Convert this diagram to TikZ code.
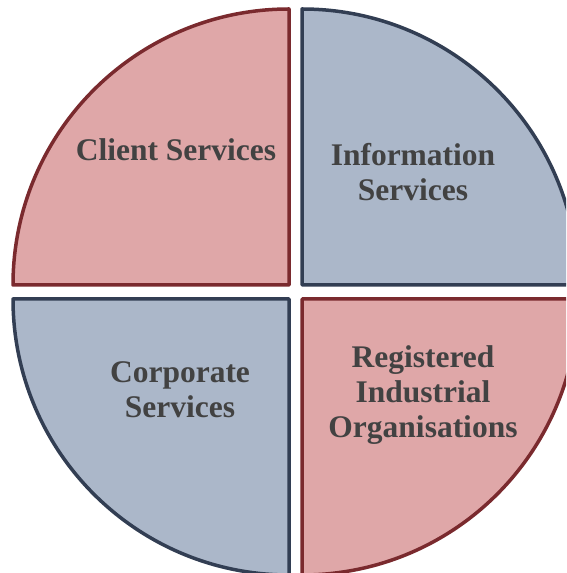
\documentclass[tikz,border=0pt]{standalone}
\usepackage{fontspec}
\setmainfont{Liberation Serif}
\usepackage{tikz}
\usetikzlibrary{positioning}

\definecolor{pinkfill}{HTML}{DFA7A8}
\definecolor{redline}{HTML}{7A2A2E}
\definecolor{bluefill}{HTML}{ABB7C9}
\definecolor{blueline}{HTML}{323E53}
\definecolor{labelgrey}{HTML}{424242}

\tikzset{
    pinkseg/.style={fill=pinkfill, draw=redline, line width=3.5pt, line join=round},
    blueseg/.style={fill=bluefill, draw=blueline, line width=3.5pt, line join=round},
    seglabel/.style={text=labelgrey, align=center,
        font=\fontsize{31.5}{35}\selectfont\bfseries},
}

\begin{document}
\begin{tikzpicture}[x=1pt, y=1pt]
    \useasboundingbox (0,0) rectangle (566,573);
    \clip (0,0) rectangle (566,573);

    % corners of the four quarters
    \coordinate (tl) at (289,288);
    \coordinate (tr) at (302,288);
    \coordinate (bl) at (289,274);
    \coordinate (br) at (302,274);

    \draw[pinkseg] (tl) -- ++(-276,0) arc[start angle=180, end angle=90, radius=276pt] -- cycle;
    \draw[blueseg] (tr) -- ++(0,276) arc[start angle=90, end angle=0, radius=276pt] -- cycle;
    \draw[blueseg] (bl) -- ++(-276,0) arc[start angle=180, end angle=270, radius=276pt] -- cycle;
    \draw[pinkseg] (br) -- ++(0,-276) arc[start angle=270, end angle=360, radius=276pt] -- cycle;

    \node[seglabel] (client) at (176,423) {Client Services};
    \node[seglabel] (info) at (413,401) {Information\\Services};
    \node[seglabel] (corporate) at (180,183) {Corporate\\Services};
    \node[seglabel] (rio) at (423,178) {Registered\\Industrial\\Organisations};
\end{tikzpicture}
\end{document}
